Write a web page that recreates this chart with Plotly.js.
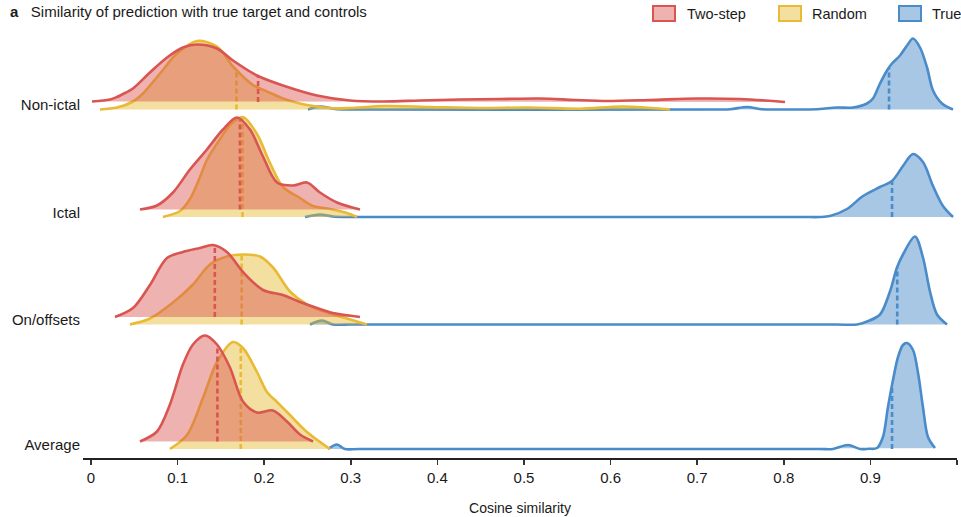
<!DOCTYPE html>
<html><head><meta charset="utf-8">
<script src="https://cdn.plot.ly/plotly-3.0.1.min.js"></script>
<style>html,body{margin:0;padding:0;background:#fff}#chart{width:961px;height:517px}</style>
</head><body><div id="chart"></div>
<script>
// ---- categories & tick labels ----
const categories = ['Non-ictal', 'Ictal', 'On/offsets', 'Average'];
const seriesNames = ['Two-step', 'Random', 'True'];
const xTickVals = [0, 0.1, 0.2, 0.3, 0.4, 0.5, 0.6, 0.7, 0.8, 0.9, 1];
const xTickText = ['0', '0.1', '0.2', '0.3', '0.4', '0.5', '0.6', '0.7', '0.8', '0.9', '1'];

// ---- density curves (x = cosine similarity, h = density height) ----
// Non-ictal
const nonIctalTwoStepX = [0.0012,0.0219,0.0300,0.0393,0.0485,0.0681,0.0878,0.1062,0.1224,0.1455,0.1640,0.1917,0.2217,0.2610,0.2991,0.3372,0.3799,0.4261,0.4723,0.5185,0.5589,0.5958,0.6455,0.6998,0.7494,0.8014];
const nonIctalTwoStepH = [0.5,2.5,5,9,13.5,29.5,44.5,54.5,57.5,53.5,41.5,26.5,16.5,6.5,1.5,0.5,1.5,2.5,3,3.5,2,1,2,3.5,3,0];
const nonIctalRandomX = [0.0104,0.0300,0.0485,0.0600,0.0797,0.0993,0.1224,0.1455,0.1640,0.1871,0.2032,0.2217,0.2413,0.2610,0.2794,0.2991,0.3395,0.3915,0.4492,0.5069,0.5647,0.6143,0.6686];
const nonIctalRandomH = [0,2,8,16,36,56,68.5,63,43,24.5,18,11,6,3,1.2,1.5,3.5,2.5,1.5,2,0.8,3,0];
const nonIctalTrueX = [0.2506,0.2644,0.2818,0.2991,0.3200,0.7100,0.7379,0.7575,0.7748,0.7900,0.8072,0.8250,0.8418,0.8614,0.8799,0.8961,0.9030,0.9111,0.9192,0.9249,0.9342,0.9423,0.9492,0.9573,0.9654,0.9723,0.9827,0.9954];
const nonIctalTrueH = [0,3,0.5,0,0,0,0.3,2.5,0.3,0,0,0,0.5,2,2,6,11,26,39,46,54,64,71,62,42,19,6,0];
// Ictal
const ictalTwoStepX = [0.0566,0.0762,0.0947,0.1143,0.1339,0.1524,0.1686,0.1836,0.1986,0.2148,0.2333,0.2494,0.2644,0.2841,0.3106];
const ictalTwoStepH = [0,4,17,40,60,80,92,80,53,27,24,27,17,7,0];
const ictalRandomX = [0.0831,0.1028,0.1143,0.1259,0.1339,0.1490,0.1628,0.1755,0.1917,0.2067,0.2217,0.2413,0.2564,0.2760,0.2956,0.3072];
const ictalRandomH = [0,6,18,40,57,78,94,100,83,54,30,19,11,8,4,0];
const ictalTrueX = [0.2471,0.2644,0.2794,0.2991,0.3200,0.8200,0.8418,0.8533,0.8730,0.8915,0.9111,0.9249,0.9376,0.9492,0.9607,0.9723,0.9838,0.9954];
const ictalTrueH = [0,2.5,0.5,0,0,0,0,1,8,21,30,36,51,63,55,31,11,0];
// On/offsets
const onoffTwoStepX = [0.0277,0.0485,0.0681,0.0878,0.1062,0.1259,0.1409,0.1570,0.1755,0.1986,0.2217,0.2413,0.2610,0.2794,0.3106];
const onoffTwoStepH = [0,9,32,59,65,69,72,65,45,27,22,15,9,4,0];
const onoffRandomX = [0.0450,0.0681,0.0947,0.1178,0.1374,0.1570,0.1755,0.1952,0.2102,0.2298,0.2494,0.2725,0.2956,0.3187];
const onoffRandomH = [0,6,22,40,60,68,70,68,57,33,20,12,6,0];
const onoffTrueX = [0.2529,0.2667,0.2794,0.2991,0.3200,0.8600,0.8845,0.8961,0.9111,0.9226,0.9307,0.9376,0.9515,0.9607,0.9688,0.9769,0.9885];
const onoffTrueH = [0,4,0,0,0,0,0,3,10,33,57,70,88,67,33,10,0];
// Average
const averageTwoStepX = [0.0566,0.0762,0.0912,0.1062,0.1178,0.1316,0.1455,0.1605,0.1755,0.1917,0.2102,0.2263,0.2413,0.2564];
const averageTwoStepH = [0,10,37,77,97,106,97,74,40,29,31,20,7,0];
const averageRandomX = [0.0912,0.1109,0.1293,0.1455,0.1640,0.1755,0.1917,0.2032,0.2148,0.2298,0.2494,0.2760];
const averageRandomH = [0,14,51,87,107,101,77,57,47,34,17,0];
const averageTrueX = [0.2737,0.2841,0.2933,0.3100,0.8400,0.8568,0.8741,0.8880,0.8980,0.9076,0.9145,0.9203,0.9261,0.9319,0.9376,0.9423,0.9492,0.9550,0.9607,0.9665,0.9746];
const averageTrueH = [0,4.5,0,0,0,0,4,0,0.2,1,12,42,69,92,104,106,99,76,42,12,1];

// medians (dashed lines), per category
const medianTwoStep = [0.193, 0.172, 0.143, 0.146];
const medianRandom  = [0.168, 0.175, 0.174, 0.173];
const medianTrue    = [0.9215, 0.925, 0.931, 0.925];

// ---- styling / layout constants ----
const rowBase = [348.5, 241, 133.5, 9];     // ridge baselines (y units = px)
const seriesOffset = {'Two-step': 7.5, 'Random': 0, 'True': 0};
const lineColor = {'Two-step': '#D95551', 'Random': '#E9BA35', 'True': '#4A8BC9'};
const fillColor = {'Two-step': 'rgba(217,84,80,0.45)', 'Random': 'rgba(228,184,42,0.45)', 'True': 'rgba(59,131,197,0.45)'};
const FONT = '"Liberation Sans", Arial, Helvetica, sans-serif';

const curves = [
  {'Two-step': [nonIctalTwoStepX, nonIctalTwoStepH], 'Random': [nonIctalRandomX, nonIctalRandomH], 'True': [nonIctalTrueX, nonIctalTrueH]},
  {'Two-step': [ictalTwoStepX, ictalTwoStepH], 'Random': [ictalRandomX, ictalRandomH], 'True': [ictalTrueX, ictalTrueH]},
  {'Two-step': [onoffTwoStepX, onoffTwoStepH], 'Random': [onoffRandomX, onoffRandomH], 'True': [onoffTrueX, onoffTrueH]},
  {'Two-step': [averageTwoStepX, averageTwoStepH], 'Random': [averageRandomX, averageRandomH], 'True': [averageTrueX, averageTrueH]}
];
const medians = {'Two-step': medianTwoStep, 'Random': medianRandom, 'True': medianTrue};

function interp(xs, hs, m) {
  for (let k = 0; k < xs.length - 1; k++) {
    if (m >= xs[k] && m <= xs[k + 1]) {
      const t = (m - xs[k]) / (xs[k + 1] - xs[k]);
      return hs[k] + t * (hs[k + 1] - hs[k]);
    }
  }
  return 0;
}

const traces = [];
const drawOrder = ['True', 'Random', 'Two-step'];
categories.forEach((cat, i) => {
  drawOrder.forEach(s => {
    const [xs, hs] = curves[i][s];
    const base = rowBase[i] + seriesOffset[s];
    traces.push({
      type: 'scatter', mode: 'lines', x: xs, y: hs.map(h => base + h),
      fill: 'toself', fillcolor: fillColor[s],
      line: {color: lineColor[s], width: 2.6, shape: 'spline', smoothing: 0.9},
      hoverinfo: 'skip', showlegend: false, name: s
    });
    const m = medians[s][i];
    traces.push({
      type: 'scatter', mode: 'lines', x: [m, m], y: [base, base + interp(xs, hs, m)],
      line: {color: lineColor[s], width: 2.6, dash: '5px,3px'},
      hoverinfo: 'skip', showlegend: false
    });
  });
});

// ---- legend (drawn in paper coords) ----
const L = 83, R = 957, T = 30, B = 458;
const px = v => (v - L) / (R - L);
const py = v => (B - v) / (B - T);
const legendBoxes = [[653, 675], [779, 801], [899, 921]];
const legendText = [685, 810, 930];
const shapes = [], annotations = [];
seriesNames.forEach((s, k) => {
  shapes.push({type: 'rect', xref: 'paper', yref: 'paper',
    x0: px(legendBoxes[k][0]), x1: px(legendBoxes[k][1]), y0: py(21), y1: py(6),
    fillcolor: fillColor[s], line: {color: lineColor[s], width: 2}});
  annotations.push({xref: 'paper', yref: 'paper', x: px(legendText[k]), y: py(13.5),
    xanchor: 'left', yanchor: 'middle', showarrow: false, text: s,
    font: {family: FONT, size: 14.5, color: '#1a1a1a'}});
});

const layout = {
  width: 961, height: 517, autosize: false,
  margin: {l: L, r: 961 - R, t: T, b: 517 - B},
  paper_bgcolor: '#fff', plot_bgcolor: '#fff',
  font: {family: FONT, size: 15, color: '#1a1a1a'},
  title: {text: '<b>a</b>\u00a0\u00a0\u00a0Similarity of prediction with true target and controls',
    x: 10 / 961, xanchor: 'left', xref: 'container', y: 1 - 12 / 517, yanchor: 'middle', yref: 'container',
    font: {family: FONT, size: 15, color: '#1a1a1a'}},
  showlegend: false,
  xaxis: {range: [-0.0092, 1.0], tickvals: xTickVals, ticktext: xTickText,
    ticks: 'outside', ticklen: 5, tickwidth: 1.5, tickcolor: '#333',
    showline: true, linecolor: '#222', linewidth: 1.6, showgrid: false, zeroline: false,
    tickfont: {family: FONT, size: 15, color: '#1a1a1a'},
    title: {text: 'Cosine similarity', font: {family: FONT, size: 14, color: '#1a1a1a'}, standoff: 18},
    fixedrange: true},
  yaxis: {range: [0, B - T], tickvals: rowBase.map(b => b + 4.5), ticktext: categories,
    ticks: '', showline: false, showgrid: false, zeroline: false, ticklabelstandoff: 2,
    tickfont: {family: FONT, size: 15, color: '#1a1a1a'}, fixedrange: true},
  shapes: shapes, annotations: annotations
};

Plotly.newPlot('chart', traces, layout, {displayModeBar: false, staticPlot: true});
</script></body></html>
